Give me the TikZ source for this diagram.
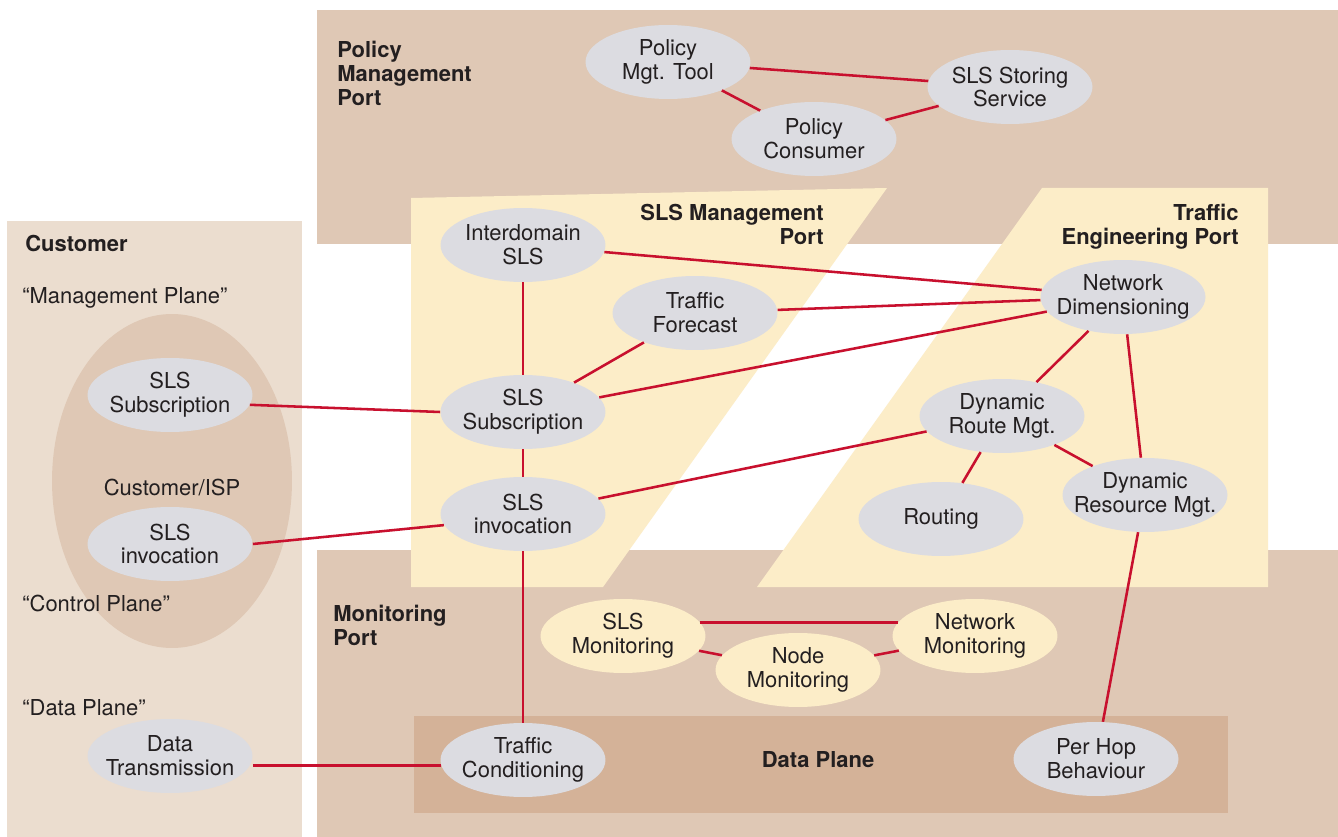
\documentclass[tikz,border=0pt]{standalone}
\usepackage{fontspec}
\setmainfont{TeX Gyre Heros}
\usetikzlibrary{shapes.geometric}

\definecolor{portbrown}{HTML}{DFC8B5}
\definecolor{custbg}{HTML}{EBDDCF}
\definecolor{portyellow}{HTML}{FCEDC8}
\definecolor{dataplane}{HTML}{D4B298}
\definecolor{nodegrey}{HTML}{DCDCE1}
\definecolor{linkred}{HTML}{C8102E}
\definecolor{inkdark}{HTML}{231F20}

\begin{document}
\begin{tikzpicture}[x=0.02cm, y=-0.02cm,
  font=\fontsize{12.5}{13.6}\selectfont, text=inkdark,
  elem/.style={ellipse, fill=nodegrey, minimum width=3.3cm, minimum height=1.48cm,
    inner xsep=-40pt, inner ysep=0pt, align=center},
  monelem/.style={elem, fill=portyellow},
  link/.style={draw=linkred, line width=1.45pt},
  portlabel/.style={font=\fontsize{12.5}{13.6}\selectfont\bfseries, inner sep=0pt},
  plainlabel/.style={inner sep=0pt}]

% canvas
\useasboundingbox (0,0) rectangle (1338,837);
\fill[white] (0,0) rectangle (1338,837);

% port areas
\fill[portbrown] (317,10) rectangle (1338,244);
\fill[portbrown] (317,550) rectangle (1338,837);
\fill[custbg] (7,221) rectangle (302,837);
\fill[portbrown] (172,481) ellipse [x radius=2.4cm, y radius=3.34cm];
\fill[dataplane] (414,716) rectangle (1228,813);
\fill[portyellow] (411,198) -- (887,188) -- (603,587) -- (411,587) -- cycle;
\fill[portyellow] (1042,188) -- (1268,188) -- (1268,587) -- (757,587) -- cycle;

% area labels
\node[portlabel, anchor=north west, align=left] (pmport) at (337,41) {Policy\\Management\\Port};
\node[portlabel, anchor=north east, align=right] (slsport) at (824,204) {SLS Management\\Port};
\node[portlabel, anchor=north east, align=right] (teport) at (1239,204) {Traffic\\Engineering Port};
\node[portlabel, anchor=north west, align=left] (monport) at (333,605) {Monitoring\\Port};
\node[portlabel, anchor=base] (dplabel) at (818,767) {Data Plane};
\node[portlabel, anchor=base west] (custlabel) at (25,252) {Customer};
\node[plainlabel, anchor=base west] (mplane) at (22,304) {“Management Plane”};
\node[plainlabel, anchor=base] (ispl) at (172,495) {Customer/ISP};
\node[plainlabel, anchor=base west] (cplane) at (22,611) {“Control Plane”};
\node[plainlabel, anchor=base west] (dplane) at (22,715) {“Data Plane”};

% policy management
\node[elem] (pmt) at (668,62) {Policy\\Mgt. Tool};
\node[elem] (sss) at (1010,87) {SLS Storing\\Service};
\node[elem] (pc) at (814,139) {Policy\\Consumer};

% SLS management
\node[elem] (ids) at (523,245) {Interdomain\\SLS};
\node[elem] (tf) at (695,313) {Traffic\\Forecast};
\node[elem] (sub) at (523,412) {SLS\\Subscription};
\node[elem] (inv) at (523,514) {SLS\\invocation};

% traffic engineering
\node[elem] (nd) at (1123,297) {Network\\Dimensioning};
\node[elem] (drm) at (1002,416) {Dynamic\\Route Mgt.};
\node[elem] (rout) at (941,519) {Routing};
\node[elem] (drsm) at (1145,495) {Dynamic\\Resource Mgt.};

% monitoring
\node[monelem] (slsmon) at (623,636) {SLS\\Monitoring};
\node[monelem] (nodemon) at (798,670) {Node\\Monitoring};
\node[monelem] (netmon) at (975,636) {Network\\Monitoring};

% data plane
\node[elem] (tc) at (523,760) {Traffic\\Conditioning};
\node[elem] (phb) at (1096,759) {Per Hop\\Behaviour};

% customer
\node[elem] (csub) at (170,395) {SLS\\Subscription};
\node[elem] (cinv) at (170,544) {SLS\\invocation};
\node[elem] (dt) at (170,756) {Data\\Transmission};

% connections
\draw[link] (pmt) -- (sss);
\draw[link] (pmt) -- (pc);
\draw[link] (pc) -- (sss);
\draw[link] (ids) -- (nd);
\draw[link] (ids) -- (sub);
\draw[link] (tf) -- (nd);
\draw[link] (tf) -- (sub);
\draw[link] (sub) -- (nd);
\draw[link] (sub) -- (inv);
\draw[link] (inv) -- (drm);
\draw[link] (inv) -- (tc);
\draw[link] (csub.-7) -- (sub.180);
\draw[link] (cinv.east) -- (inv.188);
\draw[link] (dt.east |- tc.184) -- (tc.184);
\draw[link] (nd) -- (drm);
\draw[link] (nd) -- (drsm);
\draw[link] (drm) -- (rout);
\draw[link] (drm) -- (drsm);
\draw[link] (drsm) -- (phb);
\draw[link] (slsmon.10) -- (netmon.170);
\draw[link] (slsmon) -- (nodemon);
\draw[link] (nodemon) -- (netmon);
\end{tikzpicture}
\end{document}
